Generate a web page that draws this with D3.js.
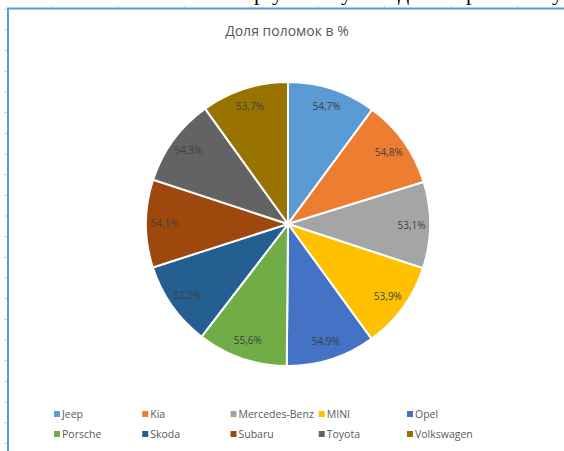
<!DOCTYPE html>
<html>
<head>
<meta charset="utf-8">
<script src="https://cdn.jsdelivr.net/npm/d3@7"></script>
<style>
  body { margin: 0; background: #fff; }
  svg { display: block; }
</style>
</head>
<body>
<div id="viz"></div>
<script>
// chart data
const brands = ["Jeep", "Kia", "Mercedes-Benz", "MINI", "Opel", "Porsche", "Skoda", "Subaru", "Toyota", "Volkswagen"]
const shares = [54.7, 54.8, 53.1, 53.9, 54.9, 55.6, 52.2, 54.1, 54.3, 53.7]
const colors = ["#5B9BD5", "#ED7D31", "#A5A5A5", "#FFC000", "#4472C4", "#70AD47", "#255E91", "#9E480E", "#636363", "#997300"]
const title = "Доля поломок в %"

const width = 564
const height = 451

const svg = d3.select("#viz").append("svg")
  .attr("width", width)
  .attr("height", height)

// bits of the page around the chart (ruler ticks, clipped line of text above)
const rulerY = d3.range(0, 22).map(i => 9.3 + i * 20.67)
svg.selectAll("line.rl")
  .data(rulerY)
  .enter().append("line")
    .attr("x1", 4).attr("x2", 7)
    .attr("y1", d => d).attr("y2", d => d)
    .attr("stroke", "#cfd0d8").attr("stroke-width", 1)

const rulerX = d3.range(0, 8).map(i => 52 + i * 66.5)
svg.selectAll("line.rt")
  .data(rulerX)
  .enter().append("line")
    .attr("x1", d => d).attr("x2", d => d)
    .attr("y1", 5.5).attr("y2", 8)
    .attr("stroke", "#d8d8de").attr("stroke-width", 1)

const clipped = [["р", 254], ["у", 272], ["у", 341], ["д", 398], ["р", 466], ["у", 552]]
svg.selectAll("text.clip")
  .data(clipped)
  .enter().append("text")
    .attr("x", d => d[1]).attr("y", 0)
    .attr("font-family", "Liberation Serif, serif")
    .attr("font-size", 22)
    .attr("fill", "#000")
    .text(d => d[0])

// chart frame
svg.append("rect")
  .attr("x", 8).attr("y", 8.5)
  .attr("width", width).attr("height", height)
  .attr("fill", "#fff")
  .attr("stroke", "#5B9BD5")
  .attr("stroke-width", 2)

svg.append("text")
  .attr("x", 287).attr("y", 36)
  .attr("text-anchor", "middle")
  .attr("font-family", "Open Sans, sans-serif")
  .attr("font-size", 14)
  .attr("fill", "#595959")
  .text(title)

// pie
const cx = 288, cy = 224, r = 142
const pie = d3.pie().sort(null).value(d => d)
const arcs = pie(shares)
const arc = d3.arc().innerRadius(0).outerRadius(r)
const labelArc = d3.arc().innerRadius(r * 0.87).outerRadius(r * 0.87)
const color = d3.scaleOrdinal().domain(brands).range(colors)

const g = svg.append("g").attr("transform", `translate(${cx},${cy})`)

g.selectAll("path")
  .data(arcs)
  .enter().append("path")
    .attr("d", arc)
    .attr("fill", (d, i) => color(brands[i]))
    .attr("stroke", "#fff")
    .attr("stroke-width", 2)

const fmt = v => d3.format(".1f")(v).replace(".", ",") + "%"

g.selectAll("text.lbl")
  .data(arcs)
  .enter().append("text")
    .attr("transform", d => `translate(${labelArc.centroid(d)})`)
    .attr("text-anchor", "middle")
    .attr("dy", "0.35em")
    .attr("font-family", "Open Sans, sans-serif")
    .attr("font-size", 10)
    .attr("fill", "#404040")
    .text(d => fmt(d.data))

// legend: 5 columns, 2 rows
const legX = d3.scalePoint().domain(d3.range(5)).range([54, 407])
const legY = d3.scalePoint().domain([0, 1]).range([414, 434])

const leg = svg.selectAll("g.leg")
  .data(brands)
  .enter().append("g")
    .attr("transform", (d, i) => `translate(${legX(i % 5)},${legY(Math.floor(i / 5))})`)

leg.append("rect")
  .attr("x", 0).attr("y", -3)
  .attr("width", 6).attr("height", 6)
  .attr("fill", d => color(d))

leg.append("text")
  .attr("x", 8).attr("y", 0)
  .attr("dy", "0.35em")
  .attr("font-family", "Open Sans, sans-serif")
  .attr("font-size", 10.5)
  .attr("fill", "#595959")
  .text(d => d)
</script>
</body>
</html>
